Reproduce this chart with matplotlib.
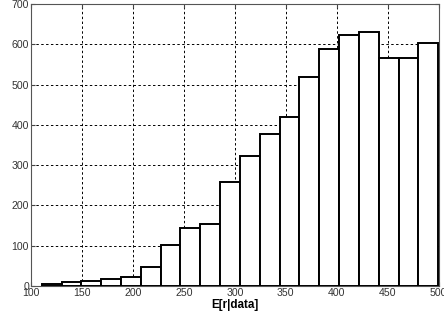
import matplotlib

matplotlib.use("Agg")
import matplotlib.pyplot as plt
import numpy as np

# histogram of E[r|data], 20 equal bins
BIN_LO, BIN_HI = 110.5, 499.5
COUNTS = [5, 10, 13, 17, 23, 47, 101, 144, 153, 257,
          322, 377, 419, 520, 589, 623, 630, 566, 566, 604]
XTICKS = [100, 150, 200, 250, 300, 350, 400, 450, 500]
YTICKS = [0, 100, 200, 300, 400, 500, 600, 700]

plt.rcParams.update({
    "font.family": ["Liberation Sans", "DejaVu Sans"],
    "font.size": 7.6,
})

edges = np.linspace(BIN_LO, BIN_HI, len(COUNTS) + 1)

fig = plt.figure(figsize=(4.44, 3.22), dpi=100)
ax = fig.add_axes([31 / 444, 36 / 322, 407.7 / 444, 282 / 322])
ax.bar(edges[:-1], COUNTS, width=np.diff(edges), align="edge",
       facecolor="white", edgecolor="black", linewidth=1.4, zorder=3)

ax.set_xlim(100, 500)
ax.set_ylim(0, 700)
ax.set_xticks(XTICKS)
ax.set_yticks(YTICKS)
ax.grid(True, color="black", linestyle=(0, (2.5, 2.5)), linewidth=0.7, zorder=1)
ax.tick_params(direction="in", top=True, right=True, length=3,
               color="#444444", labelcolor="#333333", pad=1.5)
for s in ax.spines.values():
    s.set_color("#555555")
    s.set_linewidth(0.8)
ax.set_xlabel("E[r|data]", fontweight="bold", fontsize=8.4, labelpad=1)

fig.savefig("out.png", dpi=100)
